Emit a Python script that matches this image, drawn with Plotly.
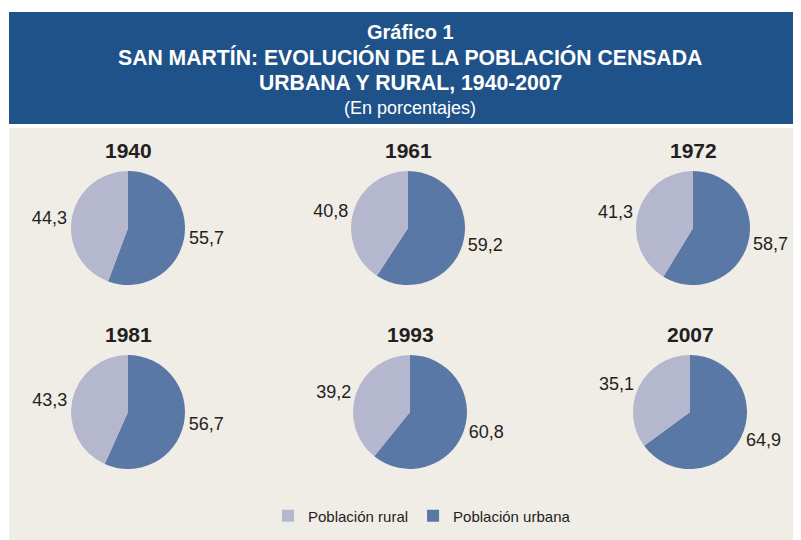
import plotly.graph_objects as go

years = ["1940", "1961", "1972", "1981", "1993", "2007"]
rural = [44.3, 40.8, 41.3, 43.3, 39.2, 35.1]
urbana = [55.7, 59.2, 58.7, 56.7, 60.8, 64.9]
labels = ["Población urbana", "Población rural"]
colors = ["#5A78A5", "#B5B7CF"]
title_lines = ["<b>Gráfico 1</b>",
               "<b>SAN MARTÍN: EVOLUCIÓN DE LA POBLACIÓN CENSADA</b>",
               "<b>URBANA Y RURAL, 1940-2007</b>",
               "(En porcentajes)"]

W, H = 801, 540
OFF = 8  # page body margin
def px(x):
    return (x - OFF) / W
def py(y):
    return 1 - (y - OFF) / H

centers = [(128, 228), (408, 228), (693, 228), (128, 412), (410, 412), (690, 412)]
R = 57
FONT = "Liberation Sans, Arial"

fig = go.Figure()
annotations = []
for i, (yr, r, u) in enumerate(zip(years, rural, urbana)):
    cx, cy = centers[i]
    fig.add_trace(go.Pie(
        labels=labels, values=[u, r], sort=False, direction="clockwise",
        rotation=0, marker=dict(colors=colors, line=dict(width=0)),
        textinfo="value", texttemplate="%{value:.1f}", textposition="outside",
        textfont=dict(size=18, color="#231F20", family=FONT),
        domain=dict(x=[px(cx - R), px(cx + R)], y=[py(cy + R), py(cy - R)]),
        showlegend=(i == 0), hoverinfo="label+value",
    ))
    annotations.append(dict(
        text="<b>%s</b>" % yr, x=px(cx), y=py(cy - 78), xref="paper", yref="paper",
        showarrow=False, font=dict(size=21, color="#231F20", family=FONT),
        xanchor="center", yanchor="middle",
    ))

line_y = [32, 57, 83, 108]
line_size = [20, 21.2, 21.2, 18]
for t, yy, s in zip(title_lines, line_y, line_size):
    annotations.append(dict(
        text=t, x=px(410), y=py(yy), xref="paper", yref="paper", showarrow=False,
        font=dict(size=s, color="white", family=FONT), xanchor="center", yanchor="middle",
    ))

shapes = [
    dict(type="rect", xref="paper", yref="paper", x0=px(9), x1=1, y0=0, y1=py(128),
         fillcolor="#F0ECE6", line=dict(width=0), layer="below"),
    dict(type="rect", xref="paper", yref="paper", x0=px(9), x1=px(800), y0=py(124), y1=py(12),
         fillcolor="#1F5288", line=dict(width=0), layer="below"),
]

fig.update_layout(
    width=W, height=H, margin=dict(l=0, r=0, t=0, b=0),
    paper_bgcolor="white", plot_bgcolor="white",
    separators=",.",
    annotations=annotations, shapes=shapes,
    legend=dict(orientation="h", x=px(422), xanchor="center", y=py(516), yanchor="middle",
                traceorder="reversed",
                font=dict(size=15, color="#231F20", family=FONT),
                bgcolor="rgba(0,0,0,0)"),
)

fig.write_html("out.html")
